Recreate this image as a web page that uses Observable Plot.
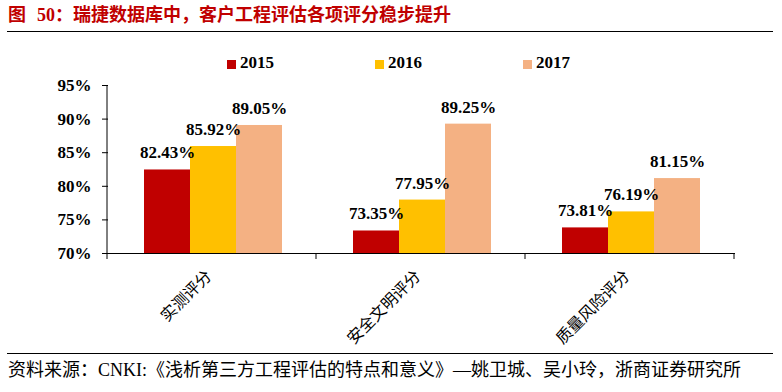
<!DOCTYPE html>
<html><head><meta charset="utf-8">
<script src="https://cdn.jsdelivr.net/npm/d3@7"></script>
<script src="https://cdn.jsdelivr.net/npm/@observablehq/plot@0.6"></script>
<style>
html,body{margin:0;padding:0;background:#fff}
#page{position:relative;width:782px;height:392px;overflow:hidden;background:#fff}
#chart{position:absolute;left:0;top:0}
#chart svg{background:transparent}
#title{position:absolute;left:8px;top:2px;font-family:"Noto Sans CJK SC";font-weight:bold;font-size:18px;line-height:22px;color:#C00000;white-space:nowrap}
#title .num{font-family:"Liberation Serif";font-weight:bold;margin-left:11px;font-size:18px}
#tline{position:absolute;left:7px;top:31px;width:766px;height:0;border-top:1px solid #000}
#legend{position:absolute;left:0;top:52px;width:782px;height:24px}
.lg{position:absolute;top:0;display:flex;align-items:center;font-family:"Liberation Serif";font-weight:bold;font-size:17px;line-height:22px;color:#000}
.sw{width:9px;height:9px;margin-right:4px;margin-top:2px}
#sline{position:absolute;left:7px;top:353px;width:766px;height:0;border-top:1px solid #000}
#source{position:absolute;left:8px;top:359px;font-family:"Liberation Serif","Noto Sans CJK SC";font-size:18px;line-height:22px;color:#000;white-space:nowrap}
</style>
</head><body>
<div id="page">
  <div id="chart"></div>
  <div id="title">图<span class="num">50</span>：瑞捷数据库中，客户工程评估各项评分稳步提升</div>
  <div id="tline"></div>
  <div id="legend"></div>
  <div id="sline"></div>
  <div id="source">资料来源：CNKI:《浅析第三方工程评估的特点和意义》—姚卫城、吴小玲，浙商证券研究所</div>
</div>
<script>
const categories = ["实测评分", "安全文明评分", "质量风险评分"];
const years = ["2015", "2016", "2017"];
const values2015 = [82.43, 73.35, 73.81];
const values2016 = [85.92, 77.95, 76.19];
const values2017 = [89.05, 89.25, 81.15];
const colors = ["#C00000", "#FFC000", "#F4B183"];
const yTicks = [70, 75, 80, 85, 90, 95];
const legendLeft = [227, 375, 523];

const series = [values2015, values2016, values2017];
const data = [];
categories.forEach((c, i) => years.forEach((y, j) => data.push({category: c, year: y, value: series[j][i]})));

const plot = Plot.plot({
  width: 782,
  height: 350,
  marginLeft: 107,
  marginRight: 47,
  marginTop: 85,
  marginBottom: 97,
  style: {background: "transparent", overflow: "visible"},
  fx: {domain: categories, padding: 0, label: null},
  x: {domain: years, paddingInner: 0, paddingOuter: 0.75, axis: null},
  y: {domain: [70, 95], label: null},
  color: {domain: years, range: colors},
  marks: [
    Plot.barY(data, {fx: "category", x: "year", y1: 70, y2: "value", fill: "year"}),
    Plot.text(data, {fx: "category", x: "year", y: "value", text: d => d.value.toFixed(2) + "%", dy: -17,
      fontFamily: "Liberation Serif", fontWeight: "bold", fontSize: 17, fill: "#000"}),
    Plot.ruleY([70], {stroke: "#000", strokeWidth: 1}),
    Plot.axisY({ticks: yTicks, tickFormat: d => d + "%", tickSize: 6, tickPadding: 11, label: null,
      fontFamily: "Liberation Serif", fontWeight: "bold", fontSize: 17, fill: "#000", stroke: "#000"}),
    Plot.axisFx({anchor: "bottom", tickRotate: -45, tickSize: 0, tickPadding: 20, dx: -4, label: null,
      fontFamily: "Noto Sans CJK SC", fontSize: 16, fill: "#000"})
  ]
});
document.getElementById("chart").appendChild(plot);

// y axis line and category boundary ticks, placed with the plot's own scales
const ys = plot.scale("y"), fxs = plot.scale("fx");
const svg = d3.select(plot);
const yTop = ys.apply(95), yBot = ys.apply(70);
const x0 = fxs.range[0];
svg.append("line").attr("x1", x0).attr("x2", x0).attr("y1", yTop).attr("y2", yBot)
  .attr("stroke", "#000").attr("stroke-width", 1);
const bounds = categories.map((c, i) => fxs.range[0] + i * fxs.step).concat([fxs.range[0] + categories.length * fxs.step]);
bounds.forEach(b => svg.append("line").attr("x1", b).attr("x2", b).attr("y1", yBot).attr("y2", yBot + 6)
  .attr("stroke", "#000").attr("stroke-width", 1));

// legend
const lg = d3.select("#legend");
years.forEach((y, i) => {
  const item = lg.append("div").attr("class", "lg").style("left", legendLeft[i] + "px");
  item.append("div").attr("class", "sw").style("background", colors[i]);
  item.append("span").text(y);
});
</script>
</body></html>
